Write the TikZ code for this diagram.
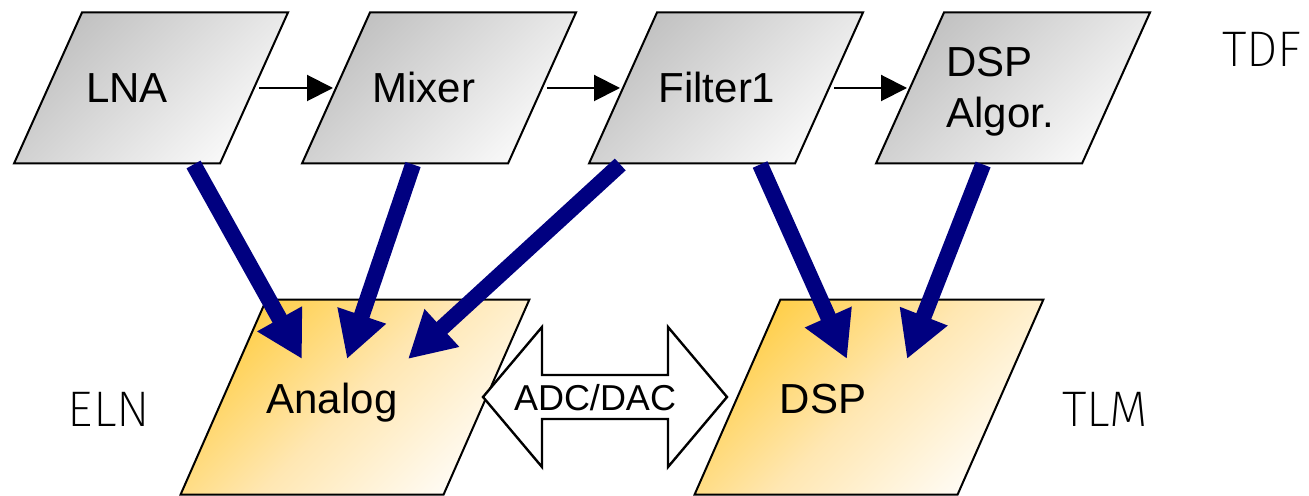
\documentclass[tikz,border=0pt]{standalone}
\usepackage{fontspec}
\setmainfont{Liberation Sans}
\newfontfamily\thinfont{Fira Sans ExtraLight}
\usetikzlibrary{arrows.meta}

\definecolor{flowblue}{RGB}{0,0,128}
\definecolor{boxgray}{RGB}{192,192,192}
\definecolor{boxlight}{RGB}{250,250,250}
\definecolor{boxgold}{RGB}{255,206,70}
\definecolor{boxpeach}{RGB}{255,231,178}
\definecolor{boxcream}{RGB}{255,252,246}

\begin{document}
\begin{tikzpicture}
		[x=0.5pt,y=-0.5pt,
		tdfbox/.style={draw,line width=1pt,minimum width=103pt,minimum height=75.5pt,
			xslant=0.45,transform shape,top color=boxgray,bottom color=boxlight,shading angle=45},
		modbox/.style={draw,line width=1pt,minimum width=131.5pt,minimum height=97.5pt,
			xslant=0.44,transform shape,top color=boxgold,bottom color=boxcream,middle color=boxpeach,
			shading angle=45},
		boxtext/.style={inner sep=0pt,font=\fontsize{21}{25.5}\selectfont},
		layerlabel/.style={inner sep=0pt,anchor=base,font=\thinfont\fontsize{25}{30}\selectfont},
		sig/.style={-{Triangle[length=13pt,width=13pt]},line width=1pt,shorten <=2pt,shorten >=1pt},
		flow/.style={-{Triangle[length=23pt,width=24pt]},line width=8pt,draw=flowblue}]
		\useasboundingbox (0,0) rectangle (1309,496);
		%% TDF cluster
		\node[tdfbox] (lna) at (151,88) {};
		\node[tdfbox] (mixer) at (439,88) {};
		\node[tdfbox] (filter) at (726,88) {};
		\node[tdfbox] (algo) at (1013,88) {};
		\node[boxtext,anchor=base] (lnatext) at (127,103) {LNA};
		\node[boxtext,anchor=base] (mixertext) at (424,103) {Mixer};
		\node[boxtext,anchor=base] (filtertext) at (717,103) {Filter1};
		\node[boxtext,align=left] (algotext) at (1000,92) {DSP\\Algor.};
		%% ELN / TLM models
		\node[modbox] (analog) at (355,397) {};
		\node[modbox] (dsp) at (869,397) {};
		\node[boxtext,anchor=base] (analogtext) at (332,413) {Analog};
		\node[boxtext,anchor=base] (dsptext) at (823,413) {DSP};
		%% layer labels
		\node[layerlabel] (tdf) at (1262,67) {TDF};
		\node[layerlabel] (eln) at (109,426) {ELN};
		\node[layerlabel] (tlm) at (1105,426) {TLM};
		%% signal chain
		\path
		\foreach \startNode/\endNode in {lna/mixer,mixer/filter,filter/algo}
		{
			(\startNode) edge[sig] (\endNode)
		};
		%% mapping to the models
		\coordinate (an1) at (302,359);
		\coordinate (an2) at (347,359);
		\coordinate (an3) at (408,359);
		\coordinate (ds1) at (847,359);
		\coordinate (ds2) at (907,359);
		\foreach \startNode/\endNode in {lna/an1,mixer/an2,filter.227/an3,filter/ds1,algo/ds2}
		{
			\draw[flow] (\startNode) -- (\endNode);
		}
		%% converter
		\draw[line width=1.2pt,fill=white] (483,397) -- (542,327) -- (542,375) -- (668,375)
			-- (668,327) -- (727,397) -- (668,467) -- (668,419) -- (542,419) -- (542,467) -- cycle;
		\node[inner sep=0pt,anchor=base,font=\fontsize{18}{20}\selectfont] (adc) at (595,410) {ADC/DAC};
		\end{tikzpicture}
\end{document}
